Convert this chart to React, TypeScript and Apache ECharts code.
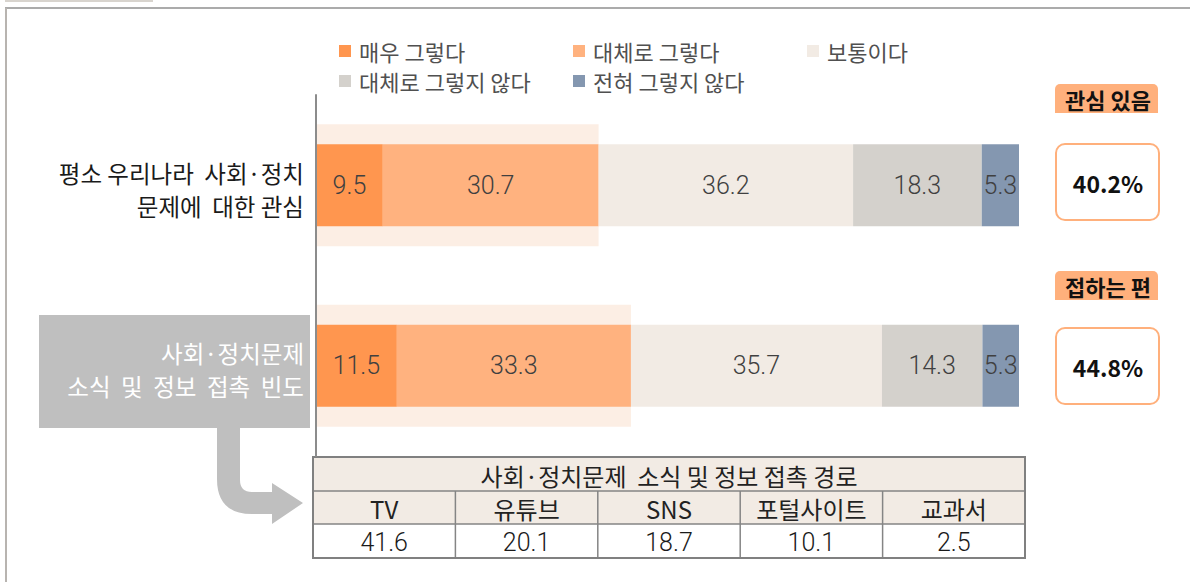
import React, { useEffect, useRef } from "react";
import * as echarts from "echarts";

// ---------- data ----------
const categories = ["평소 우리나라  사회·정치\n문제에  대한 관심", "사회·정치문제\n소식  및  정보  접촉  빈도"];
const seriesNames = ["매우 그렇다", "대체로 그렇다", "보통이다", "대체로 그렇지 않다", "전혀 그렇지 않다"];
const veryMuch = [9.5, 11.5];
const somewhat = [30.7, 33.3];
const neutral = [36.2, 35.7];
const somewhatNot = [18.3, 14.3];
const notAtAll = [5.3, 5.3];
const positiveShare = [40.2, 44.8];
const positiveLabels = ["관심 있음", "접하는 편"];
const channelTitle = "사회·정치문제  소식 및 정보 접촉 경로";
const channels = ["TV", "유튜브", "SNS", "포털사이트", "교과서"];
const channelValues = [41.6, 20.1, 18.7, 10.1, 2.5];

// ---------- styles ----------
const seriesColors = ["#FF964F", "#FFB27F", "#F2EBE4", "#D4D1CC", "#8497B0"];
const highlightColor = "#FCEEE4";
const badgeColor = "#FFB07C";
const KR = "'Noto Sans CJK KR', 'Noto Sans', sans-serif";
const NUM = "Roboto, 'Liberation Sans', sans-serif";

const arrowPath =
  "M217 428 L240 428 L240 480 Q240 492 252 492 L272 492 L272 483 L303 503 L272 524 L272 514 L252 514 Q217 514 217 479 Z";
echarts.graphic.registerShape("bendArrow", echarts.graphic.extendPath(arrowPath, {}));

function buildGraphics() {
  const g: any[] = [];
  // outer frame
  g.push({ type: "rect", shape: { x: 5, y: 0, width: 148, height: 2 }, style: { fill: "#D8D4CE" } });
  g.push({ type: "line", shape: { x1: 5, y1: 8, x2: 1190, y2: 8 }, style: { stroke: "#ABABAB", lineWidth: 2 } });
  g.push({ type: "line", shape: { x1: 6, y1: 8, x2: 6, y2: 582 }, style: { stroke: "#B8B4B0", lineWidth: 2 } });
  // gray label box + arrow
  g.push({ type: "rect", z: 0, shape: { x: 39, y: 315, width: 271, height: 113 }, style: { fill: "#BFBFBF" } });
  g.push({ type: "bendArrow", x: 0, y: 0, style: { fill: "#BFBFBF" } });

  // right badges and boxes
  const badgeTops = [84, 271];
  const boxTops = [144, 328];
  positiveLabels.forEach((lab, i) => {
    g.push({
      type: "rect",
      shape: { x: 1055, y: badgeTops[i], width: 103, height: 29, r: [5, 5, 0, 0] },
      style: { fill: badgeColor },
    });
    g.push({
      type: "text",
      x: 1108,
      y: badgeTops[i] + 15,
      style: { text: lab, fontSize: 22, fontWeight: "bold", fontFamily: KR, fill: "#111", align: "center", verticalAlign: "middle" },
    });
    g.push({
      type: "rect",
      shape: { x: 1056, y: boxTops[i], width: 103, height: 76, r: 9 },
      style: { fill: "#fff", stroke: badgeColor, lineWidth: 2 },
    });
    g.push({
      type: "text",
      x: 1108,
      y: boxTops[i] + 39,
      style: {
        text: positiveShare[i].toFixed(1) + "%",
        fontSize: 23,
        fontWeight: "bold",
        fontFamily: KR,
        fill: "#111",
        align: "center",
        verticalAlign: "middle",
      },
    });
  });

  // table
  const tL = 313, tR = 1025;
  const rows = [457, 491, 524, 558];
  const colW = (tR - tL) / channels.length;
  g.push({ type: "rect", shape: { x: tL, y: rows[0], width: tR - tL, height: rows[2] - rows[0] }, style: { fill: "#F2EBE4" } });
  g.push({ type: "rect", shape: { x: tL, y: rows[2], width: tR - tL, height: rows[3] - rows[2] }, style: { fill: "#fff" } });
  [rows[1], rows[2]].forEach((y) =>
    g.push({ type: "line", shape: { x1: tL, y1: y, x2: tR, y2: y }, style: { stroke: "#858585", lineWidth: 1.5 } })
  );
  for (let k = 1; k < channels.length; k++) {
    const x = tL + k * colW;
    g.push({ type: "line", shape: { x1: x, y1: rows[1], x2: x, y2: rows[3] }, style: { stroke: "#858585", lineWidth: 1.5 } });
  }
  g.push({
    type: "rect",
    shape: { x: tL, y: rows[0], width: tR - tL, height: rows[3] - rows[0] },
    style: { fill: "none", stroke: "#808080", lineWidth: 2 },
  });
  g.push({
    type: "text",
    x: (tL + tR) / 2,
    y: (rows[0] + rows[1]) / 2 + 1,
    style: { text: channelTitle, fontSize: 24, fontFamily: KR, fill: "#222", align: "center", verticalAlign: "middle" },
  });
  channels.forEach((c, k) => {
    const cx = tL + colW * (k + 0.5);
    g.push({
      type: "text",
      x: cx,
      y: (rows[1] + rows[2]) / 2 + 1,
      style: { text: c, fontSize: 24, fontFamily: KR, fill: "#222", align: "center", verticalAlign: "middle" },
    });
    g.push({
      type: "text",
      x: cx,
      y: (rows[2] + rows[3]) / 2 + 1,
      style: {
        text: channelValues[k].toFixed(1),
        fontSize: 25,
        fontWeight: 300,
        fontFamily: NUM,
        fill: "#1a1a1a",
        align: "center",
        verticalAlign: "middle",
      },
    });
  });
  return g;
}

export default function App() {
  const ref = useRef<HTMLDivElement>(null);
  useEffect(() => {
    if (!ref.current) return;
    const chart = echarts.init(ref.current, null, { renderer: "svg" });
    const values = [veryMuch, somewhat, neutral, somewhatNot, notAtAll];
    const legendText = { color: "#505050", fontSize: 22, fontFamily: KR, width: 200, lineHeight: 26, padding: [0, 0, 0, 3] };
    const mainSeries = values.map((d, i) => ({
      name: seriesNames[i],
      type: "bar",
      stack: "total",
      yAxisIndex: 0,
      barWidth: 82,
      z: 3,
      itemStyle: { color: seriesColors[i] },
      label: {
        show: true,
        position: "inside",
        formatter: (p: any) => Number(p.value).toFixed(1),
        fontSize: 25,
        fontWeight: 300,
        fontFamily: NUM,
        color: "#404040",
      },
      data: d,
    }));
    chart.setOption({
      animation: false,
      legend: [
        {
          data: seriesNames.slice(0, 3),
          left: 339,
          top: 38,
          padding: 0,
          itemWidth: 12,
          itemHeight: 12,
          itemGap: 14,
          icon: "rect",
          selectedMode: false,
          textStyle: legendText,
        },
        {
          data: seriesNames.slice(3),
          left: 339,
          top: 68,
          padding: 0,
          itemWidth: 12,
          itemHeight: 12,
          itemGap: 14,
          icon: "rect",
          selectedMode: false,
          textStyle: legendText,
        },
      ],
      grid: { left: 316, right: 171, top: 95, bottom: 126, containLabel: false },
      xAxis: { type: "value", min: 0, max: 100, show: false },
      yAxis: [
        {
          type: "category",
          data: categories,
          inverse: true,
          z: 10,
          axisLine: { show: true, lineStyle: { color: "#8C8C8C", width: 2 } },
          axisTick: { show: false },
          axisLabel: {
            margin: 12,
            padding: [8, 0, 0, 0],
            formatter: (v: string, i: number) =>
              v
                .split("\n")
                .map((line) => `{${i === 0 ? "a" : "b"}|${line}}`)
                .join("\n"),
            rich: {
              a: { fontSize: 23.5, fontFamily: KR, color: "#1a1a1a", lineHeight: 33, align: "right" },
              b: { fontSize: 23.5, fontFamily: KR, color: "#ffffff", lineHeight: 33, align: "right" },
            },
          },
        },
        {
          type: "category",
          data: categories,
          inverse: true,
          show: false,
          position: "left",
        },
      ],
      series: [
        {
          name: "highlight",
          type: "bar",
          yAxisIndex: 1,
          barWidth: 122,
          z: 1,
          silent: true,
          itemStyle: { color: highlightColor },
          data: positiveShare,
        },
        ...mainSeries,
      ],
      graphic: buildGraphics(),
    });
    return () => chart.dispose();
  }, []);
  return <div ref={ref} style={{ position: "absolute", left: 0, top: 0, width: 1190, height: 582 }} />;
}
